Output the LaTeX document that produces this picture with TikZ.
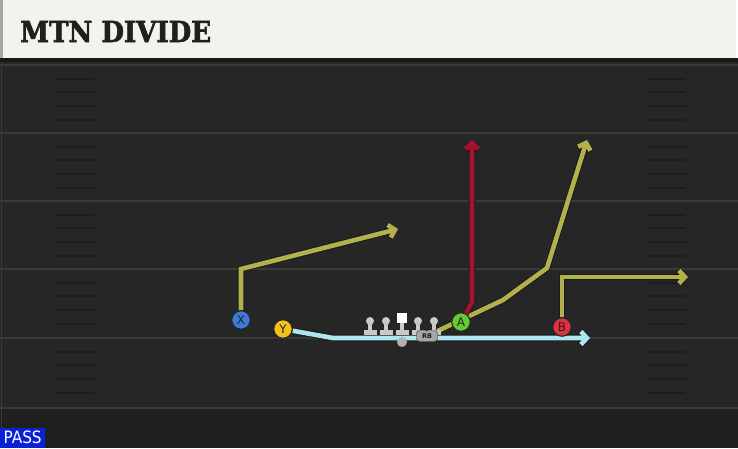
\documentclass[tikz,border=0pt]{standalone}
\usepackage{fontspec}
\setmainfont{DejaVu Sans}
\newfontfamily\titlefont{DejaVu Serif Condensed}[BoldFeatures={FakeBold=2}]
\newfontfamily\passfont{DejaVu Sans Condensed}
\usepackage{tikz}
\usetikzlibrary{arrows.meta, positioning, calc}

\definecolor{cream}{HTML}{F4F2EC}
\definecolor{turf}{HTML}{262626}
\definecolor{turfdark}{HTML}{1F1F1F}
\definecolor{yardline}{HTML}{3A3A3A}
\definecolor{olivey}{HTML}{B3B04E}
\definecolor{routered}{HTML}{A3152E}
\definecolor{routeblue}{HTML}{AEE6F0}
\definecolor{xblue}{HTML}{3C7BDA}
\definecolor{yyellow}{HTML}{F2C21C}
\definecolor{agreen}{HTML}{62CC2E}
\definecolor{bred}{HTML}{E2303C}
\definecolor{olgrey}{HTML}{C9C9C9}
\definecolor{passblue}{HTML}{0A22D6}

\pgfdeclarelayer{field}
\pgfdeclarelayer{routes}
\pgfsetlayers{field,routes,main}

\tikzset{
  route/.style={line width=4.6pt, line join=miter, -{Straight Barb[length=6pt, width=13pt]},
    preaction={draw=black!90, line width=6.4pt}},
  player/.style={circle, draw=black!85, line width=1.1pt, minimum size=18.5pt,
    inner sep=0pt, font=\fontsize{12}{12}\selectfont, text=black!85},
  lineman/.pic={
    \fill[olgrey] (0,-10) circle (4);
    \fill[olgrey] (-2.2,-10) rectangle (2.2,0);
    \fill[olgrey] (-6.5,-1) rectangle (6.5,3.5);
  }
}

\begin{document}
\begin{tikzpicture}[x=1pt, y=-1pt]
  \useasboundingbox (0,0) rectangle (738,448);

  % field
  \begin{pgfonlayer}{field}
    \fill[turf] (0,58) rectangle (738,408);
    \fill[turfdark] (0,408) rectangle (738,448);
    \draw[yardline, line width=1pt] (1,58) -- (1,448);
    \foreach \y in {65,133,201,269,338,408}
      \draw[yardline, line width=2.2pt] (0,\y) -- (738,\y);
    \foreach \y in {65,133,201,269,338}
      \foreach \d in {14,27,41,55}{
        \draw[yardline!115, line width=2pt] (56,\y+\d) -- (95,\y+\d);
        \draw[yardline!115, line width=2pt] (647,\y+\d) -- (686,\y+\d);
      }
  \end{pgfonlayer}

  % header
  \fill[cream] (0,0) rectangle (736,58);
  \fill[gray!70] (0,0) rectangle (3,58);
  \fill[black!90] (0,58) rectangle (738,62);
  \node[anchor=base west, inner sep=0pt, text=black!88,
    font=\titlefont\bfseries\fontsize{29}{29}\selectfont] (title) at (20,42) {MTN DIVIDE};

  % offensive line
  \pic at (370,331) {lineman};
  \pic at (386,331) {lineman};
  \fill[olgrey] (399.8,318) rectangle (404.2,331);
  \fill[white] (397,313) rectangle (407,323);
  \fill[olgrey] (395.5,330) rectangle (408.5,334.5);
  \pic at (418,331) {lineman};
  \pic at (434,331) {lineman};
  \node[circle, fill=gray!60, inner sep=0pt, minimum size=10pt] (qb) at (402,342) {};
  \node[draw=black!85, fill=gray!70, rounded corners=3pt, inner sep=0pt,
    minimum width=21pt, minimum height=11pt, text=black!90,
    font=\bfseries\fontsize{6.5}{6.5}\selectfont] (RB) at (427,336) {RB};

  % players
  \node[player, fill=xblue] (X) at (241,320) {X};
  \node[player, fill=yyellow] (Y) at (283,329) {Y};
  \node[player, fill=agreen] (A) at (461,322) {A};
  \node[player, fill=bred] (B) at (562,327) {B};

  % route points
  \coordinate (x1) at (241,269);
  \coordinate (xend) at (398,229);
  \coordinate (y1) at (333,338);
  \coordinate (yend) at (590,338);
  \coordinate (a1) at (472,302);
  \coordinate (aend) at (472,140);
  \coordinate (rb1) at (503,300);
  \coordinate (rb2) at (547,268);
  \coordinate (rbend) at (587,140);
  \coordinate (b1) at (562,277);
  \coordinate (bend) at (688,277);

  % routes
  \begin{pgfonlayer}{routes}
    \draw[route, draw=routeblue] (Y) -- (y1) -- (yend);
    \draw[route, draw=olivey] (X) -- (x1) -- (xend);
    \draw[route, draw=olivey] (RB) -- (rb1) -- (rb2) -- (rbend);
    \draw[route, draw=routered] (A) -- (a1) -- (aend);
    \draw[route, draw=olivey] (B) -- (b1) -- (bend);
  \end{pgfonlayer}

  % play type
  \node[fill=passblue, text=white, anchor=south west, inner sep=0pt,
    minimum width=45pt, minimum height=20pt,
    font=\passfont\fontsize{17}{17}\selectfont] (pass) at (0,448) {PASS};
\end{tikzpicture}
\end{document}
